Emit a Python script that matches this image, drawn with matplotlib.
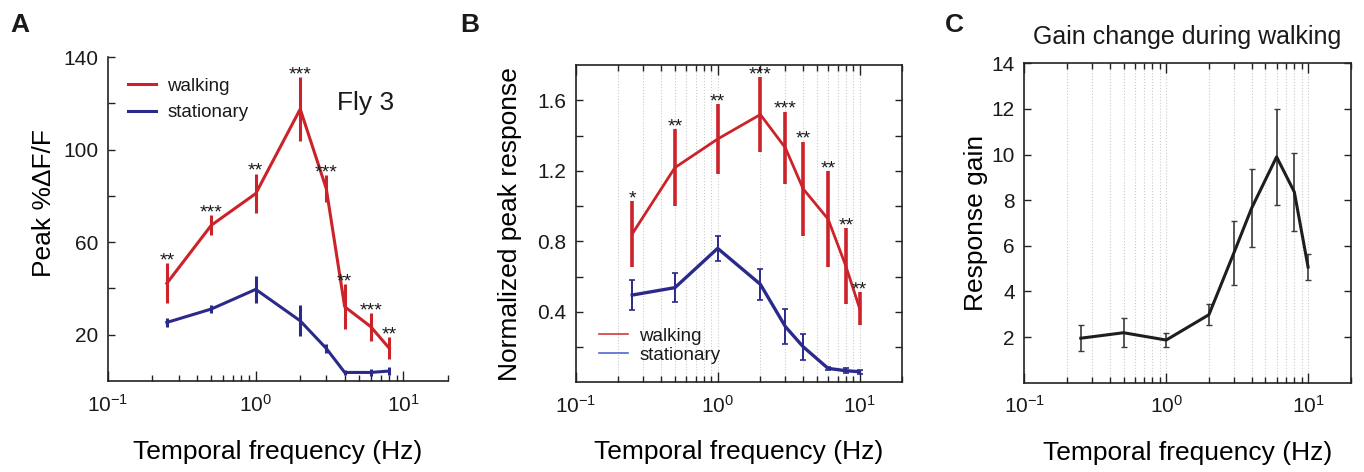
import numpy as np
import matplotlib
matplotlib.use('Agg')
from matplotlib import pyplot as plt
from matplotlib.ticker import LogLocator, FixedLocator, NullFormatter, LogFormatterMathtext

plt.rcParams['font.family'] = ['Liberation Sans', 'DejaVu Sans']
plt.rcParams['mathtext.fontset'] = 'custom'
plt.rcParams['mathtext.rm'] = 'Liberation Sans'
plt.rcParams['text.color'] = '#1a1a1a'

# Panel A - Fly 3, peak %dF/F
freqA = [0.25, 0.5, 1, 2, 3, 4, 6, 8]
walkA = [42.2, 67.3, 81.0, 117.5, 83.2, 32.1, 23.5, 14.2]
walkAErr = [8.7, 4.3, 8.6, 13.7, 5.8, 9.8, 6.0, 4.7]
statA = [25.3, 31.1, 39.6, 26.0, 14.1, 3.7, 3.7, 4.3]
statAErr = [2.0, 1.8, 5.9, 6.7, 2.0, 1.0, 1.5, 1.8]
starsA = ['**', '***', '**', '***', '***', '**', '***', '**']

# Panel B - normalized peak response
freqB = [0.25, 0.5, 1, 2, 3, 4, 6, 8, 10]
walkB = [0.842, 1.218, 1.38, 1.519, 1.33, 1.098, 0.926, 0.66, 0.42]
walkBErr = [0.186, 0.218, 0.2, 0.211, 0.205, 0.268, 0.27, 0.215, 0.093]
statB = [0.495, 0.537, 0.76, 0.556, 0.316, 0.202, 0.079, 0.066, 0.06]
statBErr = [0.085, 0.083, 0.07, 0.089, 0.1, 0.073, 0.01, 0.015, 0.01]
starsB = ['*', '**', '**', '***', '***', '**', '**', '**', '**']

# Panel C - response gain
freqC = [0.25, 0.5, 1, 2, 3, 4, 6, 8, 10]
gainC = [1.95, 2.19, 1.87, 2.98, 5.69, 7.65, 9.9, 8.36, 5.07]
gainCErr = [0.58, 0.64, 0.29, 0.45, 1.41, 1.72, 2.1, 1.7, 0.57]

RED = '#cc2229'
BLUE = '#2b2a8a'
SPINE = '#222222'


def styleLogX(axis, box=False):
    axis.set_xscale('log')
    axis.set_xlim(0.1, 20)
    axis.xaxis.set_major_locator(LogLocator(base=10, numticks=10))
    axis.xaxis.set_minor_locator(LogLocator(base=10, subs=np.arange(2, 10), numticks=20))
    axis.xaxis.set_major_formatter(LogFormatterMathtext())
    axis.xaxis.set_minor_formatter(NullFormatter())
    for s in axis.spines.values():
        s.set_linewidth(1.2)
        s.set_color(SPINE)
    if not box:
        axis.spines['top'].set_visible(False)
        axis.spines['right'].set_visible(False)
    axis.tick_params(which='both', direction='in', width=1, colors=SPINE,
                     labelsize=15, labelcolor='#1a1a1a',
                     top=box, right=box)
    axis.tick_params(axis='x', which='major', length=7, pad=9)
    axis.tick_params(axis='x', which='minor', length=4)
    axis.tick_params(axis='y', which='both', length=5, pad=7)
    if box:
        axis.grid(True, which='both', axis='x', linestyle=':', color='#cccccc', linewidth=0.8)
        axis.set_axisbelow(True)


def addStars(axis, x, y, err, stars):
    for xi, yi, ei, st in zip(x, y, err, stars):
        axis.annotate(st, (xi, yi + ei), xytext=(0, -4.5), textcoords='offset points',
                      ha='center', va='bottom', fontsize=14)


def labelAxes(axis, xlab, ylab, ylabX, ylabY=0.5):
    axis.set_xlabel(xlab, fontsize=19)
    axis.xaxis.set_label_coords(0.5, -0.22)
    axis.xaxis.label.set_va('center')
    axis.set_ylabel(ylab, fontsize=19)
    axis.yaxis.set_label_coords(ylabX, ylabY)
    axis.yaxis.label.set_va('center')


fig = plt.figure(figsize=(13.64, 4.72), dpi=100)
axA = fig.add_axes([0.0792, 0.1928, 0.2492, 0.6864])
axB = fig.add_axes([0.4221, 0.19, 0.2394, 0.6723])
axC = fig.add_axes([0.751, 0.1892, 0.2393, 0.6767])

# ---- A ----
styleLogX(axA)
axA.errorbar(freqA, walkA, yerr=walkAErr, color=RED, lw=2.2, elinewidth=2.2, capsize=0, label='walking')
axA.errorbar(freqA, statA, yerr=statAErr, color=BLUE, lw=2.2, elinewidth=2.2, capsize=0, label='stationary')
addStars(axA, freqA, walkA, walkAErr, starsA)
axA.set_ylim(0, 140)
axA.yaxis.set_major_locator(FixedLocator([20, 60, 100, 140]))
axA.yaxis.set_minor_locator(FixedLocator([40, 80, 120]))
handles, labels = axA.get_legend_handles_labels()
handles = [h[0] for h in handles]
axA.legend(handles, labels, loc='upper left', bbox_to_anchor=(0.059, 0.936), frameon=False,
           fontsize=13.5, handlelength=1.5, handletextpad=0.6, labelspacing=0.5,
           borderpad=0, borderaxespad=0)
axA.text(0.757, 0.858, 'Fly 3', transform=axA.transAxes, fontsize=19, ha='center', va='center')
labelAxes(axA, 'Temporal frequency (Hz)', 'Peak %ΔF/F', -0.188, 0.55)

# ---- B ----
styleLogX(axB, box=True)
axB.errorbar(freqB, walkB, yerr=walkBErr, color=RED, lw=2.0, elinewidth=2.6, capsize=0)
axB.errorbar(freqB, statB, yerr=statBErr, color=BLUE, lw=2.4, elinewidth=1.4, capsize=2, capthick=1.2)
addStars(axB, freqB, walkB, walkBErr, starsB)
axB.set_ylim(0, 1.8)
axB.yaxis.set_major_locator(FixedLocator([0.4, 0.8, 1.2, 1.6]))
axB.yaxis.set_minor_locator(FixedLocator([0.2, 0.6, 1.0, 1.4]))
axB.yaxis.set_major_formatter(lambda v, p: f'{v:.1f}')
legB = [plt.Line2D([], [], color='#d33a3a', lw=1.2), plt.Line2D([], [], color='#5566cc', lw=1.2)]
axB.legend(legB, ['walking', 'stationary'], loc='upper left', bbox_to_anchor=(0.071, 0.172),
           frameon=False, fontsize=13.5, handlelength=1.55, handletextpad=0.6, labelspacing=0.1,
           borderpad=0, borderaxespad=0)
labelAxes(axB, 'Temporal frequency (Hz)', 'Normalized peak response', -0.201)

# ---- C ----
styleLogX(axC, box=True)
axC.errorbar(freqC, gainC, yerr=gainCErr, color='#1e1e1e', lw=2.2, ecolor='#3c3c3c',
             elinewidth=1.2, capsize=2.5, capthick=1.0)
axC.set_ylim(0, 14)
axC.yaxis.set_major_locator(FixedLocator([2, 4, 6, 8, 10, 12, 14]))
axC.set_title('Gain change during walking', fontsize=18, pad=14)
labelAxes(axC, 'Temporal frequency (Hz)', 'Response gain', -0.148)

# Panel letters
for letter, xPix in [('A', 10), ('B', 460), ('C', 945)]:
    fig.text(xPix / 1364, 1 - 32 / 472, letter, fontsize=19, fontweight='bold', ha='left', va='baseline')

fig.savefig('out.png', dpi=100)
